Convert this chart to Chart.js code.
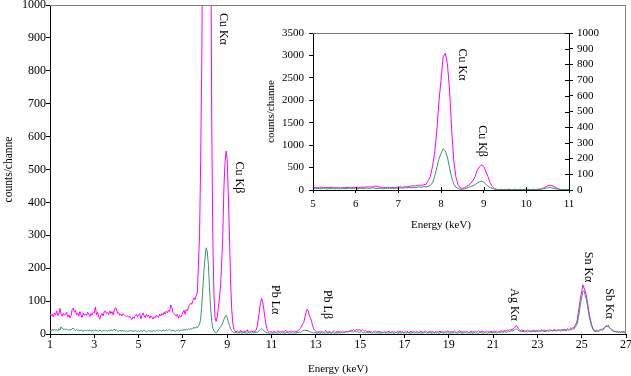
<!DOCTYPE html>
<html><head><meta charset="utf-8">
<script src="https://cdn.jsdelivr.net/npm/chart.js@4.4.1/dist/chart.umd.min.js"></script>
<style>
html,body{margin:0;padding:0;background:#fff;}
#wrap{position:relative;width:631px;height:376px;overflow:hidden;background:#fff;}
canvas{position:absolute;left:0;top:0;}
</style></head><body>
<div id="wrap"><canvas id="main" width="631" height="376"></canvas><canvas id="inset" width="631" height="376"></canvas></div>
<script>
// channel calibration: first channel energy and channel width (keV)
const START_KEV = 1.0;
const STEP_KEV = 0.05;

// magenta spectrum, counts/channel, one row per keV (1.00 .. 26.95) + 27.00
const magentaCounts = [
 62,55,60,52,64,58,70,56,61,78,60,54,63,57,59,66,52,58,49,55,
 74,79,66,72,58,63,55,68,59,50,64,57,61,56,66,60,53,62,57,65,
 64,82,58,66,51,45,57,62,55,68,71,63,66,59,70,62,68,58,72,80,
 76,62,65,57,60,55,62,58,56,53,55,51,54,47,44,52,48,56,60,53,
 58,62,46,57,64,55,50,60,53,58,48,55,51,45,52,49,58,54,50,60,
 55,62,58,66,60,70,64,72,68,88,80,66,62,58,54,60,48,56,52,58,
 66,72,60,74,70,82,88,94,90,102,110,104,118,125,210,300,520,820,1300,1950,
 2450,2966,3050,2818,2225,1350,640,290,120,50,38,52,80,110,150,215,300,445,520,556,
 530,420,300,165,78,32,15,9,6,10,7,5,12,6,8,4,9,7,13,6,
 8,5,10,6,9,7,12,22,45,70,92,108,98,75,50,28,14,9,6,8,
 7,5,9,6,4,8,10,6,7,5,9,6,8,11,7,5,8,6,10,7,
 8,6,9,7,10,12,17,22,30,34,50,64,75,72,58,50,40,27,16,11,
 8,6,5,8,4,9,6,5,7,10,6,5,8,6,4,7,9,6,5,8,
 6,8,5,7,9,6,5,8,7,6,10,8,12,11,13,10,12,14,11,13,
 12,10,13,11,9,10,8,7,9,6,8,5,7,6,9,5,7,8,6,5,
 6,5,8,4,7,6,9,5,6,8,5,7,4,6,8,5,9,6,7,5,
 5,7,6,8,4,6,9,5,7,6,5,8,6,4,7,9,5,6,8,6,
 7,5,6,9,5,8,6,4,7,6,8,5,9,6,7,5,6,8,6,10,
 6,7,5,8,6,9,7,5,6,8,10,6,7,5,9,6,8,7,5,6,
 8,6,7,5,9,6,8,10,7,6,9,7,5,8,6,9,7,6,8,7,
 6,8,7,9,6,8,7,10,9,8,11,9,10,12,11,13,12,15,14,18,
 22,26,21,15,12,10,13,9,11,8,10,12,9,11,10,8,12,10,9,11,
 10,12,9,11,13,10,12,11,9,12,10,13,11,12,10,14,12,11,13,12,
 13,12,14,11,15,13,12,16,14,15,18,16,20,19,26,32,42,65,88,112,
 128,150,140,132,120,100,80,58,42,28,18,12,10,8,11,9,12,13,15,14,
 18,20,25,23,26,20,17,14,12,9,8,7,9,6,8,5,7,6,8,5,
 6
];

// green spectrum, counts/channel, same channels
const greenCounts = [
 12,8,14,10,15,11,13,9,16,12,22,18,14,16,12,15,13,11,14,12,
 16,18,13,10,14,11,12,9,13,10,8,12,11,9,13,10,12,8,11,9,
 10,13,9,11,8,12,10,7,11,9,12,10,8,11,9,13,10,12,15,11,
 13,10,9,12,8,11,9,10,7,11,8,10,9,12,8,10,7,11,9,8,
 10,7,11,9,8,12,10,6,9,11,8,10,7,9,11,8,10,12,9,11,
 10,8,12,11,9,13,10,12,14,11,9,12,10,8,11,9,13,10,12,11,
 12,14,11,15,13,16,14,17,15,18,20,17,22,19,24,30,45,85,140,195,
 232,262,250,210,140,80,38,18,9,5,4,6,12,18,22,27,34,44,52,57,
 50,38,26,16,10,6,4,3,5,2,4,3,6,2,4,5,3,4,2,5,
 3,4,2,5,3,4,6,5,8,11,14,16,13,10,7,5,3,4,2,3,
 3,2,4,3,5,2,3,4,2,5,3,4,2,3,5,4,2,3,4,2,
 3,4,2,5,4,6,5,8,9,11,12,10,11,9,8,6,5,4,3,4,
 3,2,4,3,2,5,3,4,2,3,4,2,5,3,2,4,3,2,4,3,
 3,4,2,5,3,4,6,5,7,6,8,9,7,8,6,9,8,7,6,5,
 6,7,5,4,6,3,5,4,3,5,2,4,3,5,2,4,3,4,2,3,
 4,3,5,2,4,3,2,5,3,4,2,3,5,4,2,3,4,2,5,3,
 3,4,2,5,3,2,4,3,5,2,4,3,2,5,3,4,2,3,4,5,
 2,4,3,5,2,3,4,2,5,3,4,2,3,5,4,2,3,4,2,5,
 3,2,4,3,5,2,4,3,2,4,5,3,2,4,3,5,2,3,4,3,
 4,3,2,5,3,4,2,3,5,4,3,2,4,3,5,2,4,3,5,4,
 3,4,5,3,4,6,4,5,6,5,7,6,5,7,8,7,9,10,9,12,
 14,15,13,11,9,8,7,8,6,7,8,6,7,8,6,7,9,8,7,8,
 8,7,9,8,10,9,8,7,9,10,8,9,11,10,9,10,11,9,10,11,
 10,9,11,10,12,11,10,13,12,11,14,13,16,15,20,25,32,50,70,95,
 112,128,132,120,108,90,70,50,36,24,15,10,8,7,9,8,10,11,13,12,
 16,20,24,22,26,19,15,12,10,8,7,6,7,5,6,4,5,6,4,5,
 5
];

// tick labels
const mainXTicks = [1,3,5,7,9,11,13,15,17,19,21,23,25,27];
const mainYTicks = [0,100,200,300,400,500,600,700,800,900,1000];
const insetXTicks = [5,6,7,8,9,10,11];
const insetLeftTicks = [0,500,1000,1500,2000,2500,3000,3500];
const insetRightTicks = [0,100,200,300,400,500,600,700,800,900,1000];

// peak labels (energy keV, counts where text starts)
const mainPeakNames = ['Cu K\u03b1','Cu K\u03b2','Pb L\u03b1','Pb L\u03b2','Ag K\u03b1','Sn K\u03b1','Sb K\u03b1'];
const mainPeakEnergy = [8.83, 9.53, 11.16, 13.49, 21.95, 25.30, 26.25];
const mainPeakCounts = [976, 524, 149, 134, 139, 250, 139];
const insetPeakNames = ['Cu K\u03b1','Cu K\u03b2'];
const insetPeakEnergy = [8.49, 8.96];
const insetPeakCounts = [3153, 1446];

const energies = magentaCounts.map((_, i) => Math.round((START_KEV + i * STEP_KEV) * 100) / 100);
const pts = arr => arr.map((v, i) => ({x: energies[i], y: v}));

const FONT = 'Liberation Serif, Times New Roman, serif';
const MAGENTA = '#FF00FF';
const GREEN = '#339966';

const decorPlugin = {
  id: 'decor',
  afterDraw(chart, args, o) {
    const {ctx, chartArea: a} = chart;
    ctx.save();
    ctx.lineWidth = 1;
    ctx.strokeStyle = '#808080';
    ctx.beginPath();
    if (o.top) { ctx.moveTo(a.left, a.top + 0.5); ctx.lineTo(a.right, a.top + 0.5); }
    if (o.right) { ctx.moveTo(a.right - 0.5, a.top); ctx.lineTo(a.right - 0.5, a.bottom); }
    ctx.stroke();
    ctx.strokeStyle = '#000';
    (o.innerTicks || []).forEach(id => {
      const s = chart.scales[id];
      ctx.beginPath();
      s.ticks.forEach(t => {
        const p = Math.round(s.getPixelForValue(t.value)) + 0.5;
        if (s.isHorizontal()) { ctx.moveTo(p, a.bottom); ctx.lineTo(p, a.bottom - 3); }
        else { ctx.moveTo(a.right, p); ctx.lineTo(a.right - 4, p); }
      });
      ctx.stroke();
    });
    ctx.fillStyle = '#000';
    ctx.font = o.labelFont;
    ctx.textAlign = 'left';
    ctx.textBaseline = 'middle';
    const xs = chart.scales.x, ys = chart.scales[o.labelAxis];
    o.names.forEach((n, i) => {
      ctx.save();
      ctx.translate(xs.getPixelForValue(o.energy[i]), ys.getPixelForValue(o.counts[i]));
      ctx.rotate(Math.PI / 2);
      ctx.fillText(n, 0, 0);
      ctx.restore();
    });
    ctx.restore();
  }
};

function fixTicks(list) { return s => { s.ticks = list.map(v => ({value: v})); }; }
function fitW(w) { return s => { s.width = w; s.paddingTop = 0; s.paddingBottom = 0; s.paddingLeft = 0; s.paddingRight = 0; }; }
function fitH(h) { return s => { s.height = h; s.paddingTop = 0; s.paddingBottom = 0; s.paddingLeft = 0; s.paddingRight = 0; }; }
const lbl = v => String(v);

new Chart(document.getElementById('main'), {
  type: 'line',
  data: { datasets: [
    { data: pts(greenCounts), borderColor: GREEN, borderWidth: 1, pointRadius: 0, tension: 0 },
    { data: pts(magentaCounts), borderColor: MAGENTA, borderWidth: 1, pointRadius: 0, tension: 0 }
  ]},
  options: {
    responsive: false, animation: false, devicePixelRatio: 1,
    layout: { padding: { left: 0, top: 5, right: 5, bottom: 0 } },
    plugins: {
      legend: { display: false }, tooltip: { enabled: false },
      decor: { top: true, right: true, labelFont: '12px ' + FONT, labelAxis: 'y',
               names: mainPeakNames, energy: mainPeakEnergy, counts: mainPeakCounts }
    },
    scales: {
      x: {
        type: 'linear', min: 1, max: 27,
        afterBuildTicks: fixTicks(mainXTicks), afterFit: fitH(42),
        ticks: { autoSkip: false, maxRotation: 0, padding: 0, color: '#000', font: { family: FONT, size: 12 }, callback: lbl },
        grid: { drawOnChartArea: false, tickLength: 4, color: '#000' },
        border: { color: '#000' },
        title: { display: true, text: 'Energy (keV)', color: '#000', font: { family: FONT, size: 11 }, padding: { top: 0, bottom: 0 } }
      },
      y: {
        type: 'linear', min: 0, max: 1000,
        afterBuildTicks: fixTicks(mainYTicks), afterFit: fitW(50),
        ticks: { autoSkip: false, padding: 0, color: '#000', font: { family: FONT, size: 12 }, callback: lbl },
        grid: { drawOnChartArea: false, tickLength: 4, color: '#000' },
        border: { color: '#000' },
        title: { display: true, text: 'counts/channe', color: '#000', font: { family: FONT, size: 11.5 }, padding: { top: 2, bottom: 0 } }
      }
    }
  },
  plugins: [decorPlugin]
});

new Chart(document.getElementById('inset'), {
  type: 'line',
  data: { datasets: [
    { data: pts(greenCounts), yAxisID: 'yR', borderColor: GREEN, borderWidth: 1, pointRadius: 0, tension: 0 },
    { data: pts(magentaCounts), yAxisID: 'yL', borderColor: MAGENTA, borderWidth: 1, pointRadius: 0, tension: 0 }
  ]},
  options: {
    responsive: false, animation: false, devicePixelRatio: 1,
    layout: { padding: { left: 253, top: 33, right: 2, bottom: 142 } },
    plugins: {
      legend: { display: false }, tooltip: { enabled: false },
      decor: { top: true, right: false, innerTicks: ['x', 'yR'], labelFont: '12px ' + FONT, labelAxis: 'yL',
               names: insetPeakNames, energy: insetPeakEnergy, counts: insetPeakCounts }
    },
    scales: {
      x: {
        type: 'linear', min: 5, max: 11,
        afterBuildTicks: fixTicks(insetXTicks), afterFit: fitH(44),
        ticks: { autoSkip: false, maxRotation: 0, padding: 5, color: '#000', font: { family: FONT, size: 11 }, callback: lbl },
        grid: { drawOnChartArea: false, tickLength: 3, color: '#000' },
        border: { color: '#000' },
        title: { display: true, text: 'Energy (keV)', color: '#000', font: { family: FONT, size: 11 }, padding: { top: 0, bottom: 2 } }
      },
      yL: {
        type: 'linear', position: 'left', min: 0, max: 3500,
        afterBuildTicks: fixTicks(insetLeftTicks), afterFit: fitW(60),
        ticks: { autoSkip: false, padding: 5, color: '#000', font: { family: FONT, size: 11 }, callback: lbl },
        grid: { drawOnChartArea: false, tickLength: 4, color: '#000' },
        border: { color: '#000' },
        title: { display: true, text: 'counts/channe', color: '#000', font: { family: FONT, size: 11 }, padding: { top: 12, bottom: 0 } }
      },
      yR: {
        type: 'linear', position: 'right', min: 0, max: 1000,
        afterBuildTicks: fixTicks(insetRightTicks), afterFit: fitW(60),
        ticks: { autoSkip: false, padding: 4, color: '#000', font: { family: FONT, size: 11 }, callback: lbl },
        grid: { drawOnChartArea: false, tickLength: 4, color: '#000' },
        border: { color: '#000' }
      }
    }
  },
  plugins: [decorPlugin]
});
</script>
</body></html>
